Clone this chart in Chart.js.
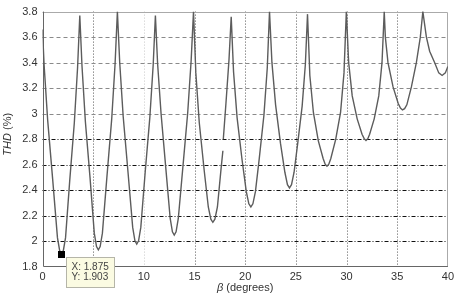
<!DOCTYPE html>
<html>
<head>
<meta charset="utf-8">
<script src="https://cdn.jsdelivr.net/npm/chart.js@4/dist/chart.umd.min.js"></script>
<style>
html,body{margin:0;padding:0;background:#fff;}
#wrap{width:457px;height:294px;}
</style>
</head>
<body>
<div id="wrap"><canvas id="c" width="457" height="294"></canvas></div>
<script>
// ---- data ----
const betaDeg = [
  0,0.16,0.51,1.00,1.475,1.695,1.875,2.055,2.275,2.69,3.14,3.46,3.68,
  3.90,4.23,4.69,5.11,5.33,5.51,5.69,5.91,6.36,6.83,7.16,7.39,
  7.62,7.96,8.44,8.90,9.12,9.30,9.48,9.70,10.13,10.59,10.92,11.14,
  11.36,11.70,12.16,12.60,12.82,13.00,13.18,13.40,13.86,14.33,14.67,14.90,
  15.13,15.47,15.95,16.36,16.61,16.81,17.01,17.26,17.62,17.80,17.82,17.84,18.10,18.40,18.62,
  18.85,19.20,19.69,20.11,20.36,20.56,20.76,21.01,21.39,21.85,22.18,22.40,
  22.64,23.00,23.48,23.92,24.17,24.37,24.57,24.82,25.17,25.62,25.94,26.15,
  26.38,26.73,27.21,27.69,27.89,28.07,28.25,28.45,28.93,29.41,29.75,29.98,
  30.21,30.56,31.05,31.53,31.74,31.92,32.10,32.28,32.73,33.18,33.50,33.72,
  33.83,34.09,34.59,35.10,35.32,35.52,35.73,35.95,36.40,36.89,37.28,37.53,
  37.88,38.20,38.70,39.10,39.43,39.75,40.00];
const thdPct = [
  3.66,3.38,2.95,2.49,2.03,1.928,1.903,1.928,2.03,2.48,2.93,3.36,3.77,
  3.37,2.94,2.50,2.065,1.96,1.935,1.96,2.065,2.51,2.96,3.39,3.80,
  3.40,2.98,2.54,2.11,2.005,1.98,2.005,2.11,2.54,2.97,3.38,3.77,
  3.39,3.00,2.58,2.18,2.075,2.05,2.075,2.18,2.59,3.01,3.42,3.80,
  3.32,2.93,2.56,2.27,2.175,2.15,2.175,2.27,2.57,2.71,null,2.80,3.08,3.42,3.76,
  3.33,2.97,2.64,2.39,2.295,2.27,2.295,2.39,2.65,2.99,3.36,3.80,
  3.40,3.07,2.77,2.54,2.445,2.42,2.445,2.54,2.76,3.06,3.39,3.78,
  3.30,3.01,2.79,2.65,2.605,2.59,2.605,2.65,2.80,3.01,3.32,3.80,
  3.40,3.14,2.96,2.84,2.805,2.79,2.805,2.84,2.96,3.14,3.40,3.80,
  3.60,3.40,3.21,3.08,3.045,3.03,3.04,3.07,3.21,3.40,3.60,3.80,
  3.60,3.49,3.40,3.32,3.30,3.32,3.37];
const xTicks = [0,5,10,15,20,25,30,35,40];
const yTicks = [1.8,2,2.2,2.4,2.6,2.8,3,3.2,3.4,3.6,3.8];
const tipX = 1.875, tipY = 1.903;
const xTitleItalic = "\u03B2", xTitleRest = " (degrees)";
const yTitleItalic = "THD", yTitleRest = " (%)";

const FONT = "'Liberation Sans', Arial, sans-serif";
const points = betaDeg.map((x,i)=>({x:x, y:thdPct[i]}));

const decor = {
  id:'decor',
  beforeDatasetsDraw(chart){
    const ctx = chart.ctx, a = chart.chartArea;
    const xs = chart.scales.x, ys = chart.scales.y;
    ctx.save();
    ctx.lineWidth = 1;
    xTicks.forEach(v=>{
      if (v===xTicks[0] || v===xTicks[xTicks.length-1]) return;
      const px = Math.round(xs.getPixelForValue(v))+0.5;
      ctx.strokeStyle = v===10 ? '#c8c8c8' : '#555';
      ctx.setLineDash([1,2]);
      ctx.beginPath(); ctx.moveTo(px,a.top); ctx.lineTo(px,a.bottom); ctx.stroke();
    });
    yTicks.forEach(v=>{
      if (v===yTicks[0] || v===yTicks[yTicks.length-1]) return;
      const py = Math.round(ys.getPixelForValue(v))+0.5;
      if (v>2.9){ ctx.strokeStyle='#8a8a8a'; ctx.setLineDash([4,3]); }
      else { ctx.strokeStyle='#111'; ctx.setLineDash([4,2,1,2]); }
      ctx.beginPath(); ctx.moveTo(a.left,py); ctx.lineTo(a.right,py); ctx.stroke();
    });
    ctx.setLineDash([]);
    ctx.strokeStyle = '#aaa';
    ctx.beginPath();
    ctx.moveTo(a.left, Math.round(a.top)+0.5); ctx.lineTo(Math.round(a.right)-0.5, Math.round(a.top)+0.5);
    ctx.lineTo(Math.round(a.right)-0.5, a.bottom);
    ctx.stroke();
    ctx.strokeStyle = '#666';
    ctx.beginPath();
    ctx.moveTo(Math.round(a.left)+0.5, a.top); ctx.lineTo(Math.round(a.left)+0.5, Math.round(a.bottom)-0.5);
    ctx.lineTo(a.right, Math.round(a.bottom)-0.5);
    ctx.stroke();
    ctx.restore();
  },
  afterDraw(chart){
    const ctx = chart.ctx, a = chart.chartArea;
    const xs = chart.scales.x, ys = chart.scales.y;
    ctx.save();
    ctx.fillStyle = '#333';
    ctx.textBaseline = 'middle';
    ctx.font = 'italic 11px ' + FONT;
    const w1 = ctx.measureText(xTitleItalic).width;
    ctx.font = '11px ' + FONT;
    const w2 = ctx.measureText(xTitleRest).width;
    let sx = (a.left + a.right)/2 - (w1+w2)/2;
    ctx.textAlign = 'left';
    ctx.font = 'italic 11px ' + FONT; ctx.fillText(xTitleItalic, sx, 288);
    ctx.font = '11px ' + FONT; ctx.fillText(xTitleRest, sx+w1, 288);

    ctx.save();
    ctx.translate(8, (a.top + a.bottom)/2 - 5);
    ctx.rotate(-Math.PI/2);
    ctx.font = 'italic 11px ' + FONT;
    const v1 = ctx.measureText(yTitleItalic).width;
    ctx.font = '11px ' + FONT;
    const v2 = ctx.measureText(yTitleRest).width;
    let sy = -(v1+v2)/2;
    ctx.font = 'italic 11px ' + FONT; ctx.fillText(yTitleItalic, sy, 0);
    ctx.font = '11px ' + FONT; ctx.fillText(yTitleRest, sy+v1, 0);
    ctx.restore();

    const px = xs.getPixelForValue(tipX), py = ys.getPixelForValue(tipY);
    ctx.fillStyle = '#000';
    ctx.fillRect(Math.round(px)-4, Math.round(py)-3, 7, 7);
    const bx = Math.round(px)+4.5, by = Math.round(py)+3.5, bw = 48, bh = 30;
    ctx.fillStyle = '#fbfbe2';
    ctx.fillRect(bx, by, bw, bh);
    ctx.strokeStyle = '#b5b5a8';
    ctx.lineWidth = 1;
    ctx.strokeRect(bx, by, bw, bh);
    ctx.fillStyle = '#444';
    ctx.font = '10px ' + FONT;
    ctx.textAlign = 'left';
    ctx.fillText('X: ' + tipX, bx+5, by+10);
    ctx.fillText('Y: ' + tipY, bx+5, by+20);
    ctx.restore();
  }
};

new Chart(document.getElementById('c'), {
  type: 'line',
  data: { datasets: [{
    data: points,
    borderColor: '#5c5c5c',
    borderWidth: 1.4,
    pointRadius: 0,
    tension: 0,
    spanGaps: false,
    fill: false
  }]},
  options: {
    responsive: false,
    animation: false,
    events: [],
    layout: { padding: { top: 7, right: 9, left: 0, bottom: 0 } },
    plugins: { legend: { display: false }, tooltip: { enabled: false } },
    scales: {
      x: {
        type: 'linear', min: 0, max: 40,
        afterBuildTicks(s){ s.ticks = xTicks.map(v=>({value:v})); },
        afterFit(s){ s.height = 27; },
        ticks: { padding: 3, color: '#333', font: { family: FONT, size: 11 }, maxRotation: 0, autoSkip: false },
        grid: { display: false, drawTicks: false },
        border: { display: false }
      },
      y: {
        type: 'linear', min: 1.8, max: 3.8,
        afterBuildTicks(s){ s.ticks = yTicks.map(v=>({value:v})); },
        afterFit(s){ s.width = 42.5; },
        ticks: { padding: 5, color: '#333', font: { family: FONT, size: 11 },
          callback: v => String(Number(v.toFixed(1))) },
        grid: { display: false, drawTicks: false },
        border: { display: false }
      }
    }
  },
  plugins: [decor]
});
</script>
</body>
</html>
